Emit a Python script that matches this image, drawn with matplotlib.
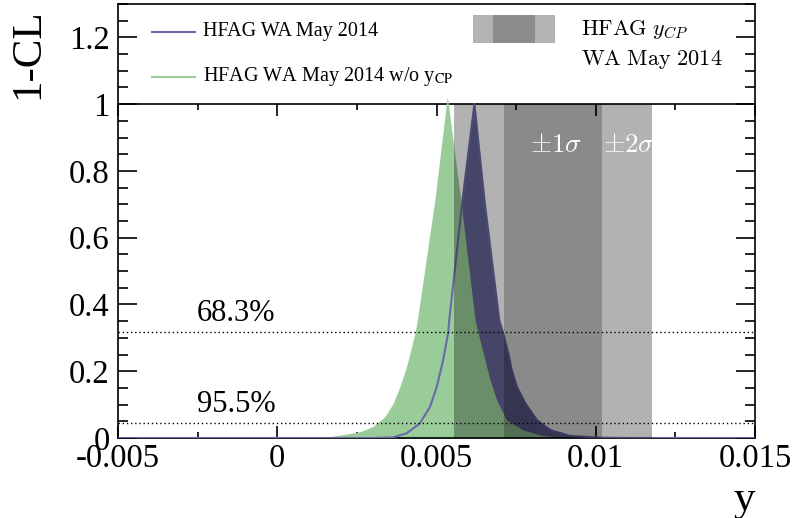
import numpy as np
import matplotlib.pyplot as plt
from matplotlib.patches import Rectangle
from matplotlib.ticker import MultipleLocator

plt.rcParams['font.family'] = ['Liberation Serif', 'DejaVu Serif']
plt.rcParams['mathtext.fontset'] = 'stix'

# 1-CL scan, HFAG WA May 2014 w/o y_CP
y_nocp = [-0.005, 0.0010, 0.00166, 0.00228, 0.0026, 0.0030, 0.00338, 0.00364,
          0.00385, 0.00406, 0.00422, 0.00433, 0.00440, 0.00495, 0.00534,
          0.00576, 0.00621, 0.00630, 0.00652, 0.00668, 0.00689, 0.00720,
          0.00772, 0.00825, 0.00888, 0.0100, 0.015]
cl_nocp = [0.0, 0.0, 0.004, 0.0135, 0.019, 0.034, 0.064, 0.104,
           0.154, 0.214, 0.274, 0.318, 0.354, 0.715, 1.024,
           0.715, 0.354, 0.318, 0.234, 0.174, 0.114, 0.054,
           0.024, 0.009, 0.0015, 0.0, 0.0]

# 1-CL scan, HFAG WA May 2014
y_wa = [-0.005, 0.0030, 0.00364, 0.00406, 0.00448, 0.00480, 0.00501, 0.00521,
        0.00537, 0.00540, 0.00582, 0.00619, 0.00652, 0.00697, 0.00708,
        0.00725, 0.00736, 0.00752, 0.00778, 0.00815, 0.00856, 0.00919,
        0.01013, 0.0110, 0.015]
cl_wa = [0.0, 0.0, 0.002, 0.014, 0.044, 0.094, 0.154, 0.234,
         0.317, 0.354, 0.715, 1.0, 0.700, 0.354, 0.318,
         0.255, 0.204, 0.154, 0.105, 0.054, 0.024, 0.006,
         0.001, 0.0, 0.0]

# HFAG y_CP world average bands
ycp_1s = [0.00711, 0.01021]
ycp_2s = [0.00556, 0.01176]

# CL reference lines
cl_lines = [0.317, 0.045]
cl_names = ['68.3%', '95.5%']

xticks = [-0.005, 0.0, 0.005, 0.01, 0.015]
xlabels = ['-0.005', '0', '0.005', '0.01', '0.015']
yticks = [0.0, 0.2, 0.4, 0.6, 0.8, 1.0, 1.2]
ylabels = ['0', '0.2', '0.4', '0.6', '0.8', '1', '1.2']

fig = plt.figure(figsize=(7.94, 5.18), dpi=100)
ax = fig.add_axes([118/794, 80/518, 637/794, 434/518])
ax.set_xlim(-0.005, 0.015)
ax.set_ylim(0, 1.3)

# curves
ax.fill_between(y_wa, 0, cl_wa, color='#636396', lw=0, zorder=1)
ax.fill_between(y_nocp, 0, cl_nocp, color='#99cc99', lw=0, zorder=2)
ax.plot(y_wa, cl_wa, color='#6a6aaa', lw=1.5, zorder=3)

# bands
ax.axvspan(ycp_2s[0], ycp_2s[1], ymin=0, ymax=1/1.3, color='black', alpha=0.3, lw=0, zorder=4)
ax.axvspan(ycp_1s[0], ycp_1s[1], ymin=0, ymax=1/1.3, color='black', alpha=0.22, lw=0, zorder=4)
ax.text(0.00794, 0.875, r'$\pm1\sigma$', color='white', fontsize=19.5, va='center',
        math_fontfamily='cm', zorder=6)
ax.text(0.01023, 0.875, r'$\pm2\sigma$', color='white', fontsize=19.5, va='center',
        math_fontfamily='cm', zorder=6)

for v, name in zip(cl_lines, cl_names):
    ax.axhline(v, color='black', lw=1, ls=(0, (1, 2)), zorder=5)
    ax.text(-0.00252, v + 0.012, name, fontsize=22, va='bottom', zorder=6)

# ticks
ax.set_xticks(xticks)
ax.set_xticklabels(xlabels)
ax.set_yticks(yticks)
ax.set_yticklabels(ylabels)
ax.xaxis.set_minor_locator(MultipleLocator(0.0025))
ax.yaxis.set_minor_locator(MultipleLocator(0.05))
ax.tick_params(axis='x', which='both', direction='in', top=False, bottom=True,
               labelsize=23.5, pad=4)
ax.tick_params(axis='y', which='both', direction='in', left=True, right=True,
               labelsize=23.5, pad=6)
ax.tick_params(axis='x', which='major', length=8.6, width=1.2)
ax.tick_params(axis='x', which='minor', length=4.3, width=1.2)
ax.tick_params(axis='y', which='major', length=13.5, width=1.2)
ax.tick_params(axis='y', which='minor', length=7.5, width=1.2)
for s in ax.spines.values():
    s.set_linewidth(1.2)

# tick marks along the 1-CL = 1 line (frame of the legend area)
sec = ax.secondary_xaxis(1/1.3)
sec.xaxis.set_major_locator(MultipleLocator(0.005))
sec.xaxis.set_minor_locator(MultipleLocator(0.0025))
sec.tick_params(which='both', direction='in', labeltop=False, labelbottom=False, width=1.2)
sec.tick_params(which='major', length=8.6)
sec.tick_params(which='minor', length=4.3)
sec.spines['top'].set_linewidth(1.2)

# legend
ax.plot([0.0534, 0.1209], [0.9355, 0.9355], color='#6a6aaa', lw=1.5, transform=ax.transAxes)
ax.plot([0.0534, 0.1209], [0.832, 0.832], color='#99cc99', lw=1.5, transform=ax.transAxes)
ax.text(0.1334, 0.937, 'HFAG WA May 2014', fontsize=14.5, va='center', transform=ax.transAxes)
ax.text(0.1334, 0.834, r'HFAG WA May 2014 w/o y$_{\mathrm{CP}}$', fontsize=14.5,
        va='center', transform=ax.transAxes)
ax.add_patch(Rectangle((0.557, 0.910), 0.129, 0.065, color='#b3b3b3', lw=0,
                       transform=ax.transAxes))
ax.add_patch(Rectangle((0.589, 0.910), 0.0656, 0.065, color='#8c8c8c', lw=0,
                       transform=ax.transAxes))
ax.text(0.727, 0.940, r'$\mathrm{HFAG}\ y_{CP}$', fontsize=16, va='center',
        math_fontfamily='cm', transform=ax.transAxes)
ax.text(0.727, 0.871, r'$\mathrm{WA\ May\ 2014}$', fontsize=16, va='center',
        math_fontfamily='cm', transform=ax.transAxes)

# axis titles
fig.text(28/794, 1 - 54/518, '1-CL', fontsize=31, rotation=90, ha='center', va='center')
fig.text(744/794, 1 - 500/518, 'y', fontsize=31, ha='center', va='center')

fig.savefig('out.png', dpi=100)
